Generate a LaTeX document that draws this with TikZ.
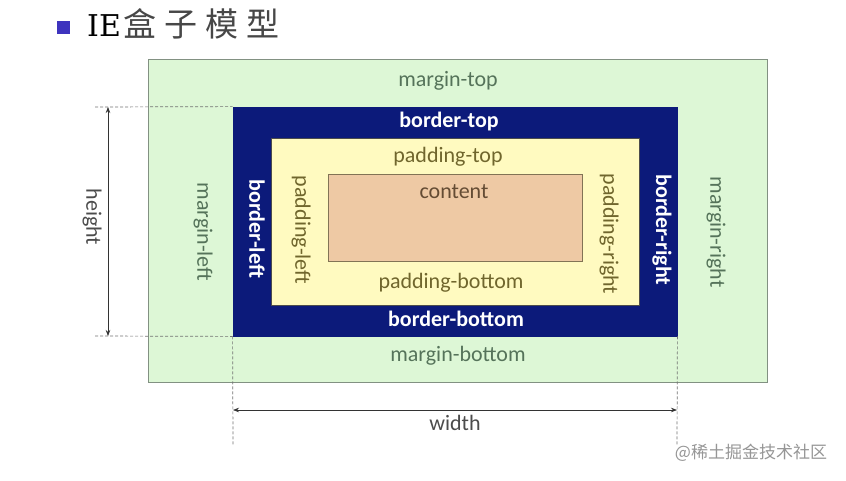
\documentclass[tikz,border=0pt]{standalone}
\usepackage{fontspec}
\setmainfont{Carlito}
\newfontfamily\cjk{Noto Sans CJK SC}
\newfontfamily\titleserif{DejaVu Serif}
\usetikzlibrary{arrows.meta}
\definecolor{marginfill}{RGB}{221,247,214}
\definecolor{marginline}{RGB}{130,145,130}
\definecolor{navy}{RGB}{12,26,122}
\definecolor{padfill}{RGB}{255,250,192}
\definecolor{confill}{RGB}{238,201,164}
\definecolor{conline}{RGB}{130,115,85}
\definecolor{margintext}{RGB}{85,115,90}
\definecolor{padtext}{RGB}{112,102,45}
\definecolor{context}{RGB}{100,76,52}
\definecolor{bullet}{RGB}{62,52,190}
\definecolor{wmark}{RGB}{150,150,150}
\tikzset{
  boxnode/.style={draw, inner sep=0pt, line width=0.8pt},
  lbl/.style={inner sep=0pt, font=\fontsize{22}{25}\selectfont},
  mlbl/.style={lbl, text=margintext},
  blbl/.style={lbl, text=white, font=\fontsize{22}{25}\selectfont\bfseries},
  plbl/.style={lbl, text=padtext},
  guide/.style={dash pattern=on 3pt off 2pt, black!55, line width=0.7pt},
  dimarrow/.style={{Stealth[length=6pt,width=4.5pt]}-{Stealth[length=6pt,width=4.5pt]}, black!80, line width=0.7pt}
}
\begin{document}
\begin{tikzpicture}[x=1pt,y=-1pt]
\useasboundingbox[fill=white] (0,0) rectangle (846,480);
% title
\node[fill=bullet, minimum size=13pt, inner sep=0pt] (bul) at (63.5,27) {};
\node[anchor=west, inner sep=0pt] (title) at (87,24)
  {{\titleserif\fontsize{30}{32}\selectfont IE}\kern3pt{\cjk\fontsize{33}{36}\selectfont\color{black!72}盒\kern8pt 子\kern8pt 模\kern8pt 型}};
% boxes
\node[boxnode, fill=marginfill, draw=marginline, minimum width=619pt, minimum height=323pt] (margin) at (457.5,220.5) {};
\node[boxnode, fill=navy, draw=navy, minimum width=444pt, minimum height=229pt] (border) at (455,221.5) {};
\node[boxnode, fill=padfill, draw=black!70, minimum width=368pt, minimum height=167pt] (padding) at (455,221.5) {};
\node[boxnode, fill=confill, draw=conline, minimum width=254pt, minimum height=87pt] (content) at (455,217.5) {};
% labels
\node[mlbl] (mt) at (448,81) {margin-top};
\node[blbl] (bt) at (449,122) {border-top};
\node[plbl] (pt) at (448,157) {padding-top};
\node[lbl, text=context] (ct) at (454,192) {content};
\node[plbl] (pb) at (451,283) {padding-bottom};
\node[blbl] (bb) at (456,319) {border-bottom};
\node[mlbl] (mb) at (458,356) {margin-bottom};
\node[mlbl, rotate=-90] (ml) at (203,232) {margin-left};
\node[blbl, rotate=-90] (bl) at (257,229) {border-left};
\node[plbl, rotate=-90] (pl) at (301,230) {padding-left};
\node[plbl, rotate=-90] (pr) at (609,234) {padding-right};
\node[blbl, rotate=-90] (br) at (662,230) {border-right};
\node[mlbl, rotate=-90] (mr) at (716,232) {margin-right};
% dimension guides
\coordinate (htop) at (95,107);
\coordinate (hbot) at (95,336);
\coordinate (wl) at (233,445);
\coordinate (wr) at (677,445);
\draw[guide] (htop) -- (border.north west);
\draw[guide] (hbot) -- (border.south west);
\draw[guide] (border.south west) -- (wl);
\draw[guide] (border.south east) -- (wr);
\coordinate (ha) at (108,107);
\coordinate (hb) at (108,336);
\coordinate (wa) at (233,410);
\coordinate (wb) at (677,410);
\draw[dimarrow] (ha) -- (hb);
\draw[dimarrow] (wa) -- (wb);
\node[lbl, text=black!70, rotate=-90] (h) at (92,217) {height};
\node[lbl, text=black!70] (w) at (455,423) {width};
% watermark
\node[inner sep=0pt, text=wmark, font=\cjk\fontsize{17}{19}\selectfont] (wm) at (751,453) {@稀土掘金技术社区};
\end{tikzpicture}
\end{document}
